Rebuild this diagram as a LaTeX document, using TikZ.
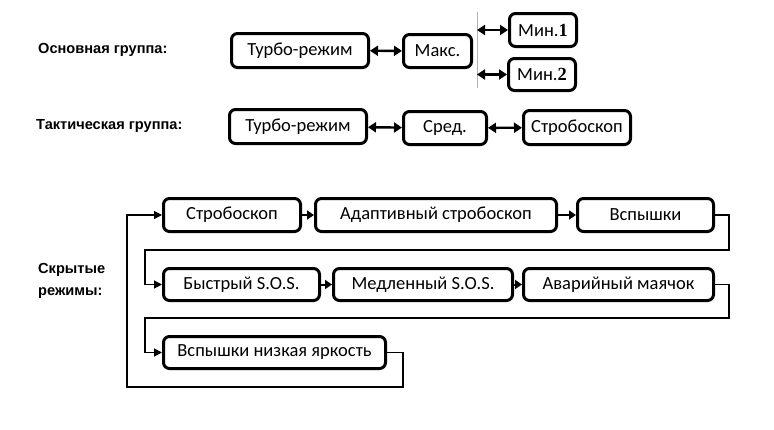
\documentclass[tikz,border=0pt]{standalone}
\usepackage{fontspec}
\setmainfont{Carlito}
\newfontfamily\labfont{Liberation Sans}
\newfontfamily\serfont{Liberation Serif}
\usetikzlibrary{arrows.meta}
\begin{document}
\begin{tikzpicture}[x=1pt,y=-1pt,
  box/.style={draw=black, line width=3pt, rounded corners=6pt, fill=white,
    inner sep=0pt, font=\fontsize{18.5}{20}\selectfont},
  lab/.style={anchor=west, inner sep=0pt, align=left,
    font=\labfont\bfseries\fontsize{14.6}{22}\selectfont},
  dbl/.style={line width=2.4pt, {Triangle[length=8pt,width=10pt]}-{Triangle[length=8pt,width=10pt]}},
  sarr/.style={line width=2pt, -{Triangle[length=7pt,width=9pt]}},
  conn/.style={line width=1.2pt, -{Triangle[length=8pt,width=8pt]}},
  thin/.style={line width=1.2pt}]
\useasboundingbox (0,0) rectangle (774,429);
\fill[white] (0,0) rectangle (774,429);

% labels
\node[lab] (l1) at (38,50) {Основная группа:};
\node[lab] (l2) at (36,126) {Тактическая группа:};
\node[lab] (l3) at (38,281) {Скрытые\\режимы:};

% main group
\node[box, minimum width=137pt, minimum height=34pt] (t1) at (300,50.5) {Турбо-режим};
\node[box, minimum width=68pt, minimum height=33pt] (maks) at (437.5,51) {Макс.};
\node[box, minimum width=67pt, minimum height=33pt] (min1) at (543,30) {Мин.{\serfont\bfseries 1}};
\node[box, minimum width=67pt, minimum height=32pt] (min2) at (542,74.5) {Мин.{\serfont\bfseries 2}};
\coordinate (vt) at (477,12);
\coordinate (vb) at (477,88);
\draw[gray!60, line width=0.6pt] (vt) -- (vb);
\draw[dbl] (t1) -- (maks);
\draw[dbl] (vt |- min1.west) -- (min1.west);
\draw[dbl] (vt |- min2.west) -- (min2.west);

% tactical group
\node[box, minimum width=137pt, minimum height=34pt] (t2) at (298,126.5) {Турбо-режим};
\node[box, minimum width=83pt, minimum height=33pt] (sred) at (445,128) {Сред.};
\node[box, minimum width=107pt, minimum height=34pt] (st1) at (577,127.5) {Стробоскоп};
\draw[dbl] (t2) -- (sred);
\draw[dbl] (sred) -- (st1);

% hidden modes
\node[box, minimum width=137pt, minimum height=33pt] (h1) at (232,215) {Стробоскоп};
\node[box, minimum width=241pt, minimum height=33pt] (h2) at (436,215) {Адаптивный стробоскоп};
\node[box, minimum width=136pt, minimum height=33pt] (h3) at (645.5,215) {Вспышки};
\node[box, minimum width=156pt, minimum height=32pt] (h4) at (241.5,284.5) {Быстрый S.O.S.};
\node[box, minimum width=179pt, minimum height=32pt] (h5) at (423,284.5) {Медленный S.O.S.};
\node[box, minimum width=190pt, minimum height=32pt] (h6) at (618.5,284.5) {Аварийный маячок};
\node[box, minimum width=222pt, minimum height=32pt] (h7) at (274.5,352.5) {Вспышки низкая яркость};

\draw[sarr] (h1) -- (h2);
\draw[sarr] (h2) -- (h3);
\draw[sarr] (h4) -- (h5);
\draw[sarr] (h5) -- (h6);

\draw[conn] (h3.east) -- (729,215) |- (145,250) |- (h4.west);
\draw[conn] (h6.east) -- (729,284.5) |- (145,318) |- (h7.west);
\draw[conn] (h7.east) -- (403,352.5) |- (127,387) |- (h1.west);
\end{tikzpicture}
\end{document}
